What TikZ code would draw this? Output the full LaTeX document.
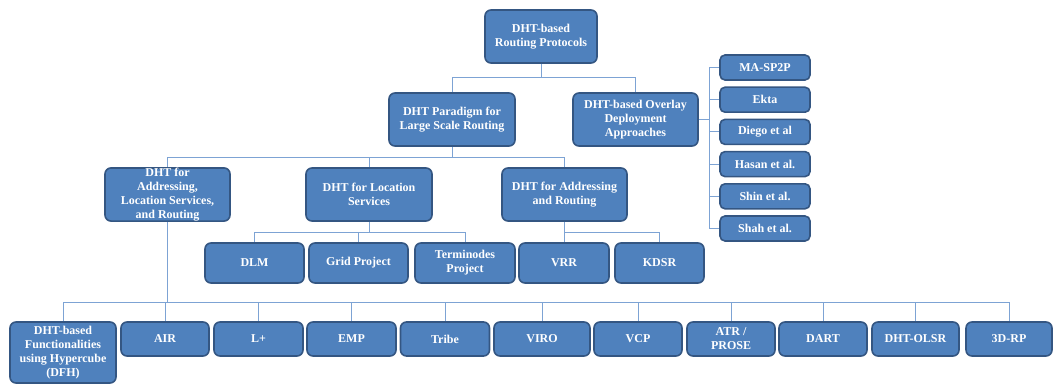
\documentclass[tikz,border=0pt]{standalone}
\usepackage{fontspec}
\setmainfont{Liberation Serif}
\definecolor{boxfill}{RGB}{79,129,189}
\definecolor{boxedge}{RGB}{52,86,130}
\definecolor{wirecol}{RGB}{125,163,212}
\begin{document}
\begin{tikzpicture}[x=1pt,y=-1pt,
  box/.style={draw=boxedge, fill=boxfill, line width=1.6pt, rounded corners=6pt,
    text=white, font=\bfseries\fontsize{12}{14}\selectfont, align=center, inner sep=0pt},
  wire/.style={draw=wirecol, line width=0.9pt}]
\useasboundingbox (0,0) rectangle (1056,385);

% top levels
\node[box, minimum width=112, minimum height=53] (root) at (541,36.5) {DHT-based\\Routing Protocols};
\node[box, minimum width=126, minimum height=53] (para) at (452,119.5) {DHT Paradigm for\\Large Scale Routing};
\node[box, minimum width=125, minimum height=53] (overlay) at (635.5,119.5) {DHT-based Overlay\\Deployment\\Approaches};

% overlay approaches
\foreach \n/\t [count=\i from 0] in {ma/MA-SP2P, ekta/Ekta, diego/Diego et al, hasan/Hasan et al., shin/Shin et al., shah/Shah et al.}
  \node[box, rounded corners=5pt, minimum width=90, minimum height=25] (\n) at (765,67.5+32.2*\i) {\t};

% third level
\node[box, minimum width=125, minimum height=53] (addr) at (167.5,194.5) {DHT for\\Addressing,\\Location Services,\\and Routing};
\node[box, minimum width=126, minimum height=53] (locs) at (369,194.5) {DHT for Location\\Services};
\node[box, minimum width=125, minimum height=53] (addrr) at (564.5,194.5) {DHT for Addressing\\and Routing};

% fourth level
\node[box, minimum width=99, minimum height=40] (dlm) at (254.5,263) {DLM};
\node[box, minimum width=99, minimum height=40] (grid) at (358.5,263) {Grid Project};
\node[box, minimum width=100, minimum height=40] (term) at (465,263) {Terminodes\\Project};
\node[box, minimum width=90, minimum height=40] (vrr) at (564,263) {VRR};
\node[box, minimum width=89, minimum height=40] (kdsr) at (659.5,263) {KDSR};

% bottom row
\node[box, minimum width=106, minimum height=61] (dfh) at (63,352.5) {DHT-based\\Functionalities\\using Hypercube\\(DFH)};
\node[box, minimum width=88, minimum height=34] (air) at (165,339) {AIR};
\node[box, minimum width=89, minimum height=34] (lplus) at (258.5,339) {L+};
\node[box, minimum width=89, minimum height=34] (emp) at (351.5,339) {EMP};
\node[box, minimum width=89, minimum height=34] (tribe) at (445,339) {Tribe};
\node[box, minimum width=96, minimum height=34] (viro) at (542,339) {VIRO};
\node[box, minimum width=88, minimum height=34] (vcp) at (638,339) {VCP};
\node[box, minimum width=88, minimum height=34] (atr) at (731,339) {ATR /\\PROSE};
\node[box, minimum width=88, minimum height=34] (dart) at (823,339) {DART};
\node[box, minimum width=87, minimum height=34] (olsr) at (915.5,339) {DHT-OLSR};
\node[box, minimum width=86, minimum height=34] (rp) at (1009,339) {3D-RP};

% connectors
\draw[wire] (root.south) -- (root.south |- 0,77);
\draw[wire] (para.north) -- (para.north |- 0,77) -- (overlay.north |- 0,77) -- (overlay.north);

\draw[wire] (overlay.east) -- (709,119.5);
\draw[wire] (ma.west -| 709,0) -- (shah.west -| 709,0);
\foreach \n in {ma,ekta,diego,hasan,shin,shah}
  \draw[wire] (\n.west -| 709,0) -- (\n.west);

\draw[wire] (para.south) -- (para.south |- 0,157);
\draw[wire] (addr.north) -- (addr.north |- 0,157) -- (addrr.north |- 0,157) -- (addrr.north);
\draw[wire] (locs.north) -- (locs.north |- 0,157);

\draw[wire] (locs.south) -- (locs.south |- 0,232);
\draw[wire] (dlm.north) -- (dlm.north |- 0,232) -- (term.north |- 0,232) -- (term.north);
\draw[wire] (grid.north) -- (grid.north |- 0,232);
\draw[wire] (addrr.south) -- (addrr.south |- 0,232);
\draw[wire] (vrr.north) -- (vrr.north |- 0,232) -- (kdsr.north |- 0,232) -- (kdsr.north);

\draw[wire] (addr.south) -- (addr.south |- 0,302);
\draw[wire] (dfh.north) -- (dfh.north |- 0,302) -- (rp.north |- 0,302) -- (rp.north);
\foreach \n in {air,lplus,emp,tribe,viro,vcp,atr,dart,olsr}
  \draw[wire] (\n.north |- 0,302) -- (\n.north);
\end{tikzpicture}
\end{document}
